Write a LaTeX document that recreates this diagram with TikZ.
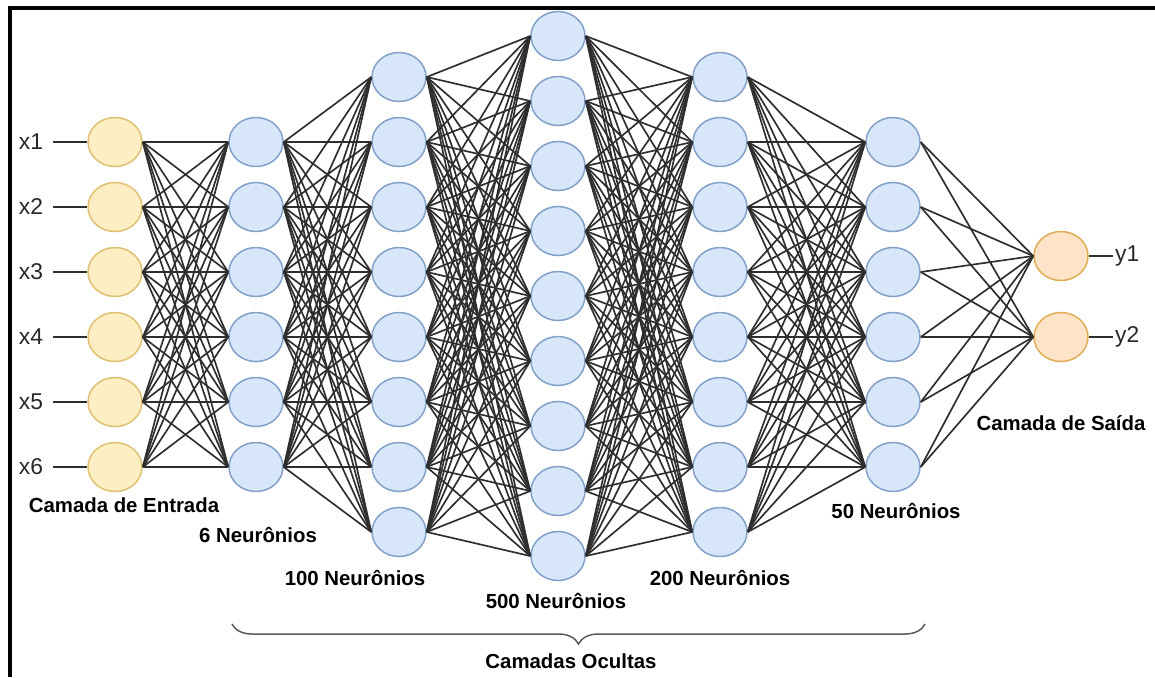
\documentclass[tikz,border=0pt]{standalone}
\usepackage{fontspec}
\setmainfont{Liberation Sans}
\usetikzlibrary{shapes.geometric,decorations.pathreplacing}
\definecolor{inputfill}{RGB}{253,238,196}
\definecolor{inputdraw}{RGB}{222,192,112}
\definecolor{hiddenfill}{RGB}{216,230,250}
\definecolor{hiddendraw}{RGB}{130,160,200}
\definecolor{outputfill}{RGB}{253,228,200}
\definecolor{outputdraw}{RGB}{224,172,84}
\definecolor{darktext}{RGB}{40,40,40}
\definecolor{bracegray}{RGB}{90,90,90}

\begin{document}
\begin{tikzpicture}[x=0.02cm,y=-0.02cm,
  neuron/.style={ellipse,minimum width=1.08cm,minimum height=0.98cm,
    inner sep=0pt,line width=0.85pt},
  inneuron/.style={neuron,draw=inputdraw,fill=inputfill},
  hidneuron/.style={neuron,draw=hiddendraw,fill=hiddenfill},
  outneuron/.style={neuron,draw=outputdraw,fill=outputfill},
  link/.style={line width=0.95pt,color=black!82},
  iolabel/.style={font=\fontsize{13}{15}\selectfont,text=darktext,inner ysep=0pt},
  layertext/.style={font=\fontsize{11.6}{13}\selectfont\bfseries,text=black}]
\useasboundingbox (0,0) rectangle (1155,677);
% frame
\draw[line width=2.2pt] (10,677) -- (10,8) -- (1155,8);
% neurons
\foreach \i in {1,...,6}
  \node[inneuron] (in\i) at (115,{142+65*(\i-1)}) {};
\foreach \i in {1,...,6}
  \node[hidneuron] (hA\i) at (256,{142+65*(\i-1)}) {};
\foreach \i in {1,...,8}
  \node[hidneuron] (hB\i) at (399,{77+65*(\i-1)}) {};
\foreach \i in {1,...,9}
  \node[hidneuron] (hC\i) at (558,{36+65*(\i-1)}) {};
\foreach \i in {1,...,8}
  \node[hidneuron] (hD\i) at (720,{77+65*(\i-1)}) {};
\foreach \i in {1,...,6}
  \node[hidneuron] (hE\i) at (893,{142+65*(\i-1)}) {};
\node[outneuron] (out1) at (1061,256) {};
\node[outneuron] (out2) at (1061,337) {};
% weights
\foreach \i in {1,...,6}
  \foreach \j in {1,...,6}
    \draw[link] (in\i.east) -- (hA\j.west);
\foreach \i in {1,...,6}
  \foreach \j in {1,...,8}
    \draw[link] (hA\i.east) -- (hB\j.west);
\foreach \i in {1,...,8}
  \foreach \j in {1,...,9}
    \draw[link] (hB\i.east) -- (hC\j.west);
\foreach \i in {1,...,9}
  \foreach \j in {1,...,8}
    \draw[link] (hC\i.east) -- (hD\j.west);
\foreach \i in {1,...,8}
  \foreach \j in {1,...,6}
    \draw[link] (hD\i.east) -- (hE\j.west);
\foreach \i in {1,...,6}
  \foreach \j in {1,2}
    \draw[link] (hE\i.east) -- (out\j.west);
% inputs and outputs
\foreach \i in {1,...,6}{
  \node[iolabel,anchor=east,inner xsep=5.5pt] (lx\i) at (53,{142+65*(\i-1)}) {x\i};
  \draw[link] (lx\i.east) -- (in\i.west);
}
\foreach \j in {1,2}{
  \node[iolabel,anchor=west,inner xsep=1pt] (ly\j) at (1113,{256+81*(\j-1)}) {y\j};
  \draw[link] (out\j.east) -- (ly\j.west);
}
% layer captions
\node[layertext] (tin) at (124,505) {Camada de Entrada};
\node[layertext] (tA) at (258,535) {6 Neurônios};
\node[layertext] (tB) at (355,578) {100 Neurônios};
\node[layertext] (tC) at (556,601) {500 Neurônios};
\node[layertext] (tD) at (720,578) {200 Neurônios};
\node[layertext] (tE) at (896,511) {50 Neurônios};
\node[layertext] (tout) at (1061,423) {Camada de Saída};
\coordinate (bl) at (232,624);
\coordinate (br) at (925,624);
\draw[decorate,decoration={brace,mirror,amplitude=0.4cm},
      line width=0.85pt,color=bracegray] (bl) -- (br);
\node[layertext] (thid) at (571,661) {Camadas Ocultas};
\end{tikzpicture}
\end{document}
